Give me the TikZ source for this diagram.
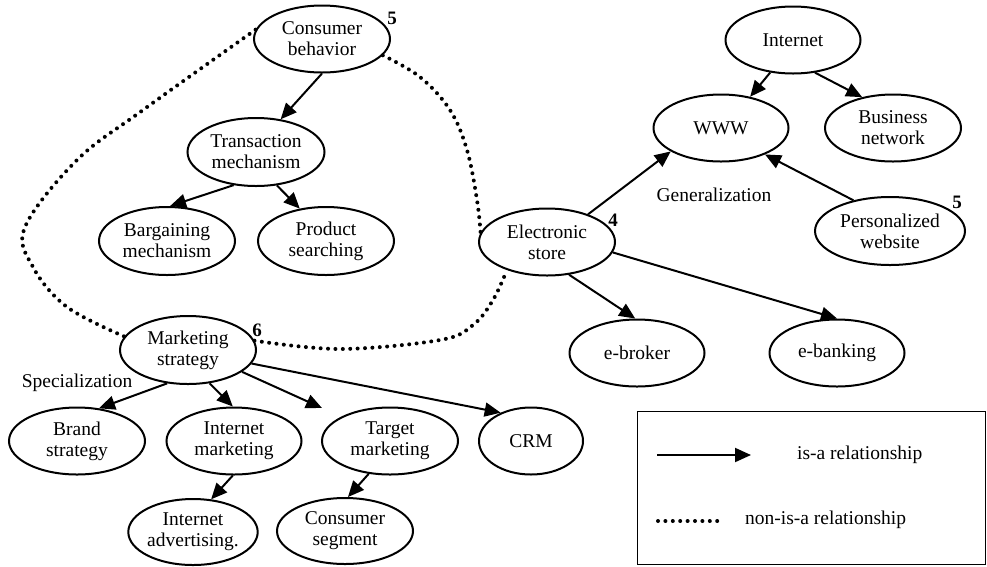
\documentclass[tikz,border=0pt]{standalone}
\usepackage{fontspec}
\setmainfont{Liberation Serif}
\usetikzlibrary{arrows.meta,shapes.geometric}
\begin{document}
\begin{tikzpicture}[x=1pt,y=-1pt,
  concept/.style={ellipse,draw,line width=2pt,inner sep=0pt,align=center,
    minimum width=136pt,minimum height=67pt,
    font=\fontsize{19.5}{21}\selectfont},
  isa/.style={line width=2pt,-{Triangle[length=16pt,width=14pt]}},
  nonisa/.style={line width=4pt,line cap=round,dash pattern=on 0pt off 7.4pt},
  lbl/.style={font=\fontsize{19.5}{21}\selectfont,inner sep=0pt},
  num/.style={font=\fontsize{19}{21}\selectfont\bfseries,inner sep=0pt}]
\useasboundingbox (0,0) rectangle (987,566);

% concepts
\node[concept] (cb)   at (322,39)  {Consumer\\behavior};
\node[concept,minimum width=137pt,minimum height=68pt] (tm) at (256,152) {Transaction\\mechanism};
\node[concept,minimum height=68pt] (bm) at (167,241) {Bargaining\\mechanism};
\node[concept,minimum height=68pt] (ps) at (326,241) {Product\\searching};
\node[concept] (es)   at (547,242) {Electronic\\store};
\node[concept,minimum width=135pt] (inet) at (793,40)  {Internet};
\node[concept,minimum width=135pt] (www)  at (721,128) {WWW};
\node[concept] (bn)   at (893,128) {Business\\network};
\node[concept,minimum width=150pt,minimum height=68pt] (pw) at (890,231) {Personalized\\website};
\node[concept,minimum width=135pt] (eb)   at (637,353) {e-broker};
\node[concept,minimum width=135pt] (ebk)  at (837,353) {e-banking};
\node[concept,minimum height=68pt] (ms)   at (188,350) {Marketing\\strategy};
\node[concept] (bs)   at (77,441)  {Brand\\strategy};
\node[concept,minimum width=135pt] (im)   at (234,441) {Internet\\marketing};
\node[concept] (tgm)  at (390,441) {Target\\marketing};
\node[concept,minimum width=104pt] (crm)  at (531,441) {CRM};
\node[concept,minimum width=127pt,minimum height=66pt] (ia) at (193,532) {Internet\\advertising.};
\node[concept,minimum height=66pt] (cs)   at (345,531) {Consumer\\segment};

% numbers beside concepts
\node[num] (n5a) at (392,18)  {5};
\node[num] (n4)  at (613,220) {4};
\node[num] (n5b) at (957,202) {5};
\node[num] (n6)  at (257,330) {6};

% side labels
\node[lbl] (gen)  at (714,195) {Generalization};
\node[lbl] (spec) at (77,383)  {Specialization};

% is-a relationships
\draw[isa] (cb.-90)  -- (tm.53);
\draw[isa] (tm.236)  -- (bm.85);
\draw[isa] (tm.-58)  -- (ps.129);
\draw[isa] (inet.235) -- (www.47);
\draw[isa] (inet.-56) -- (bn.135);
\draw[isa] (es.34)   -- (www.205);
\draw[isa] (pw.140)  -- (www.-31);
\draw[isa] (es.-56)  -- (eb.93);
\draw[isa] (es.-9)   -- (ebk.90);
\draw[isa] (ms.-122) -- (bs.56);
\draw[isa] (ms.-57)  -- (im.92);
\coordinate (tgmtip) at (322,408);
\draw[isa] (ms.-22)  -- (tgmtip);
\draw[isa] (ms.-12)  -- (crm.137);
\draw[isa] (im.-92)  -- (ia.61);
\draw[isa] (tgm.-123) -- (cs.85);

% non-is-a relationships
\draw[nonisa] plot[smooth,tension=0.6] coordinates
  {(cb.172) (143,110) (77,160) (25,227) (33,267) (67,307) (ms.168)};
\draw[nonisa] plot[smooth,tension=0.6] coordinates
  {(cb.-15) (420,77) (450,110) (467,150) (477,200) (es.172)};
\draw[nonisa] plot[smooth,tension=0.6] coordinates
  {(ms.8) (340,349) (440,340) (473,325) (493,300) (es.215)};

% legend
\node[draw,line width=1.4pt,minimum width=348pt,minimum height=153pt,inner sep=0pt,anchor=north west] (legend) at (637,411) {};
\coordinate (la1) at (657,455);
\coordinate (la2) at (751,455);
\draw[isa] (la1) -- (la2);
\node[lbl,anchor=west] (lt1) at (797,455) {is-a relationship};
\coordinate (lb1) at (658,521);
\coordinate (lb2) at (720,521);
\draw[nonisa] (lb1) -- (lb2);
\node[lbl,anchor=west] (lt2) at (745,520) {non-is-a relationship};
\end{tikzpicture}
\end{document}
